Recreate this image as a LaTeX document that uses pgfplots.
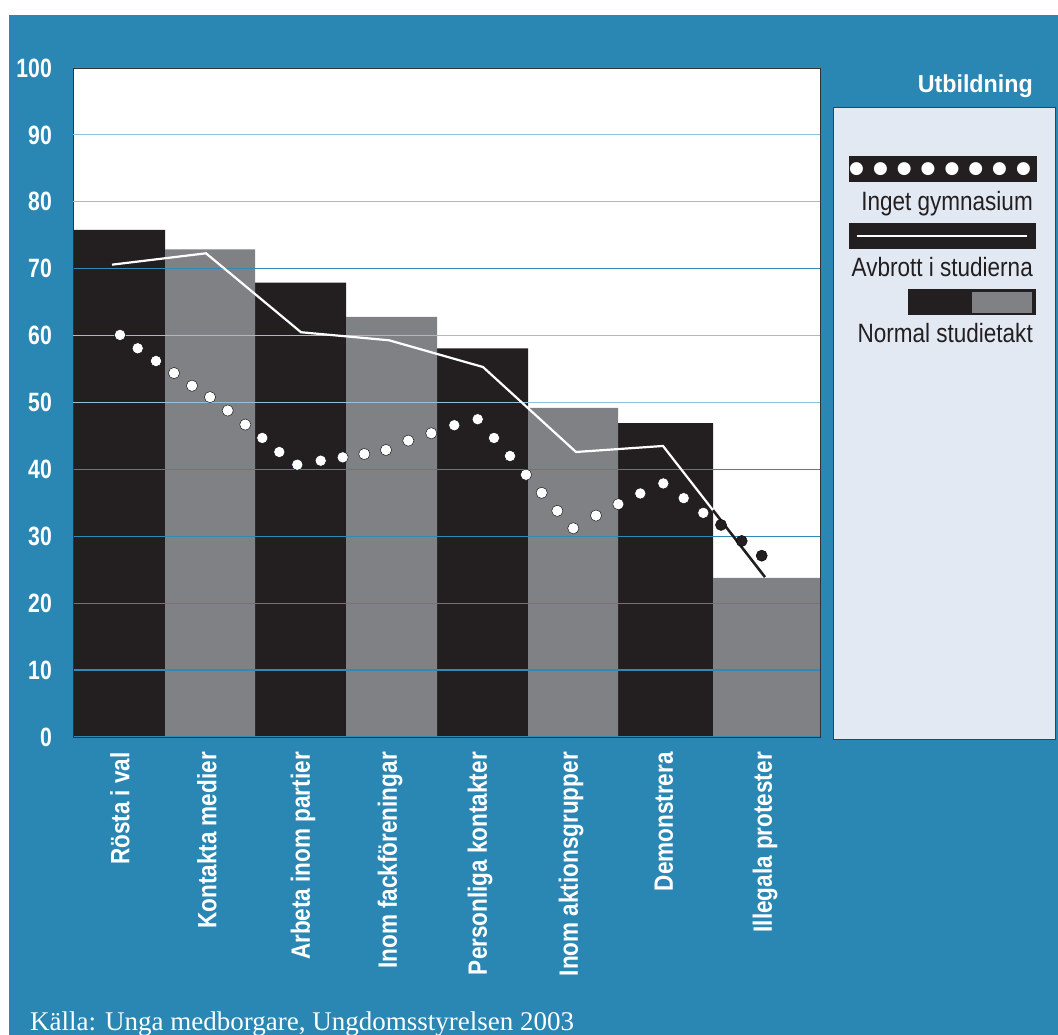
\documentclass[border=0pt]{standalone}
\usepackage{pgfplots}
\pgfplotsset{compat=1.18}
\usepackage{fontspec}
\setmainfont{Liberation Sans}
\newfontfamily\cond[FakeStretch=0.85]{Liberation Sans}
\newfontfamily\condnum[FakeStretch=0.8]{Liberation Sans}
\newfontfamily\condtitle[FakeStretch=0.95]{Liberation Sans}
\newfontfamily\srcfont{Liberation Serif}
\newfontfamily\symfont{DejaVu Sans}
\definecolor{bgblue}{HTML}{2A87B3}
\definecolor{barblack}{HTML}{231F20}
\definecolor{bargray}{HTML}{808184}
\definecolor{gridlight}{HTML}{8FC3DA}
\definecolor{griddark}{HTML}{3189B5}
\definecolor{legbg}{HTML}{E2E9F3}
\begin{document}
\begin{tikzpicture}[x=1pt,y=1pt]
\useasboundingbox (0,0) rectangle (1058,1035);
\fill[white] (0,0) rectangle (1058,1035);
\fill[bgblue] (9,0) rectangle (1058,1020);
% bars + grid
\begin{axis}[
  at={(73pt,298pt)}, anchor=south west,
  scale only axis, width=747pt, height=669pt,
  xmin=73, xmax=820, ymin=0, ymax=100,
  axis background/.style={fill=white},
  axis on top,
  axis line style={draw=black!80, line width=0.8pt},
  major tick length=0pt,
  ytick={0,10,20,30,40,70,100},
  extra y ticks={50,60,80,90},
  extra y tick style={grid style={gridlight, line width=1.2pt}},
  ymajorgrids,
  grid style={griddark, line width=1.2pt},
  xtick={120,207,303,390,480,571,664,765},
  xticklabels={Rösta i val, Kontakta medier, Arbeta inom partier, Inom fackföreningar, Personliga kontakter, Inom aktionsgrupper, Demonstrera, Illegala protester},
  /pgf/number format/assume math mode=true,
  xticklabel style={rotate=90, anchor=east, inner sep=0pt, text=white, font=\cond\bfseries\fontsize{26.5}{26.5}\selectfont},
  yticklabel style={anchor=east, inner sep=0pt, text=white, font=\condnum\bfseries\fontsize{26.5}{26.5}\selectfont},
  xticklabel shift=15pt,
  yticklabel shift=21pt,
]
\addplot[ybar interval, fill=barblack, draw=none] coordinates {
  (73,75.8) (165,0) (255,67.9) (346,0) (437,58.1) (528,0) (618,46.9) (713,0) (820,0)};
\addplot[ybar interval, fill=bargray, draw=none] coordinates {
  (73,0) (165,72.9) (255,0) (346,62.8) (437,0) (528,49.2) (618,0) (713,23.8) (820,0)};
\end{axis}
% lines and dots on top of grid
\begin{axis}[
  at={(73pt,298pt)}, anchor=south west,
  scale only axis, width=747pt, height=669pt,
  xmin=73, xmax=820, ymin=0, ymax=100,
  hide axis,
]
\addplot[white, line width=2.2pt] coordinates {
  (112,70.6) (206,72.3) (301,60.5) (389,59.3) (483,55.3) (576,42.6) (663,43.5) (765,23.9)};
\addplot[barblack, line width=2.6pt] coordinates {(713,33.9) (765,23.9)};
\addplot[only marks, mark=*, mark size=5.6pt, mark options={fill=white, draw=none}] coordinates {
  (120,60.1) (137.7,58.1) (156,56.2) (174,54.4) (192,52.5) (210,50.8) (227.7,48.8) (245.3,46.7)
  (262.3,44.7) (279.3,42.6) (297.3,40.7) (320.7,41.3) (342.7,41.8) (364.3,42.3) (386,42.9)
  (408.3,44.3) (431.3,45.4) (454.3,46.6) (477.7,47.5) (494,44.7) (510,42.0) (526,39.2)
  (541.7,36.5) (557.3,33.8) (573.3,31.2) (596,33.1) (618.3,34.8) (640.3,36.4) (663.3,37.9)
  (683.7,35.7) (703.3,33.5)};
\addplot[only marks, mark=*, mark size=5.6pt, mark options={fill=barblack, draw=none}] coordinates {
  (721,31.7) (741.7,29.3) (761.7,27.1)};
\end{axis}
% legend
\node[anchor=base east, inner sep=0pt, text=white, font=\condtitle\bfseries\fontsize{24.5}{24.5}\selectfont] at (1033,942) {Utbildning};
\filldraw[fill=legbg, draw=black!75, line width=1pt] (833,295) rectangle (1055,927);
\fill[barblack] (849,853) rectangle (1037,879);
\node[inner sep=0pt, text=white, font=\symfont\fontsize{17}{17}\selectfont] at (940,866)
  {●\hspace{9pt}●\hspace{9pt}●\hspace{9pt}●\hspace{9pt}●\hspace{9pt}●\hspace{9pt}●\hspace{9pt}●};
\node[anchor=base east, inner sep=0pt, text=barblack, font=\cond\fontsize{26.5}{26.5}\selectfont] at (1033,824) {Inget gymnasium};
\fill[barblack] (849,786) rectangle (1036,812);
\draw[white, line width=1.3pt] (857,799) -- (1027,799);
\node[anchor=base east, inner sep=0pt, text=barblack, font=\cond\fontsize{26.5}{26.5}\selectfont] at (1033,758) {Avbrott i studierna};
\fill[barblack] (908,720) rectangle (1036,746);
\fill[bargray] (972,722) rectangle (1032,743);
\node[anchor=base east, inner sep=0pt, text=barblack, font=\cond\fontsize{26.5}{26.5}\selectfont] at (1033,692) {Normal studietakt};
% source
\node[anchor=base west, inner sep=0pt, text=white, font=\srcfont\fontsize{27}{27}\selectfont] at (30,4.3) {Källa: Unga medborgare, Ungdomsstyrelsen 2003};
\end{tikzpicture}
\end{document}
